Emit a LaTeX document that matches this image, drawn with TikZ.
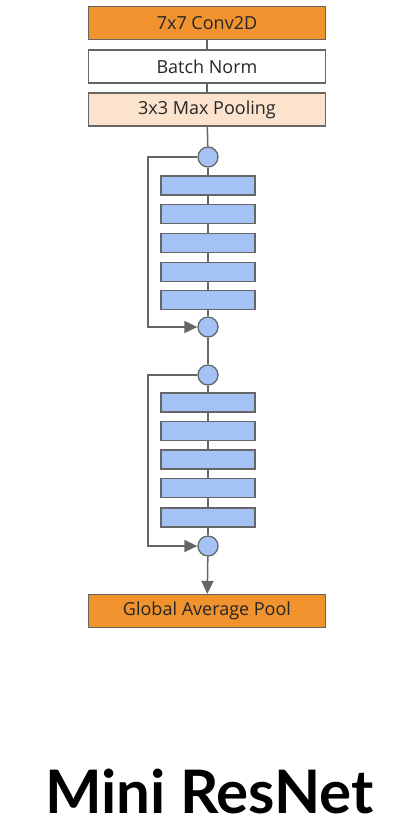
\documentclass[tikz,border=0pt]{standalone}
\usepackage{fontspec}
\setmainfont{Open Sans}
\newfontfamily\titlefont{Lato}
\usetikzlibrary{arrows.meta}
\definecolor{orng}{HTML}{F0922E}
\definecolor{peach}{HTML}{FCE3CD}
\definecolor{blu}{HTML}{A4C2F4}
\definecolor{edge}{HTML}{666666}
\begin{document}
\begin{tikzpicture}[x=1pt,y=-1pt,
  layerbox/.style={draw=edge,line width=1.3pt,minimum width=237pt,minimum height=33pt,inner sep=0pt,font=\fontsize{18}{20}\selectfont,text=black!85},
  blk/.style={draw=edge,line width=1.3pt,fill=blu,minimum width=94pt,minimum height=19pt,inner sep=0pt},
  junc/.style={circle,draw=edge,line width=1.3pt,fill=blu,minimum size=20pt,inner sep=0pt},
  conn/.style={draw=edge,line width=1.5pt},
  arr/.style={conn,-{Triangle[length=13pt,width=12pt]}}]
\useasboundingbox (0,0) rectangle (419,825);
\node[layerbox,fill=orng] (conv) at (207,23) {7x7 Conv2D};
\node[layerbox,fill=white] (bn) at (207,66.5) {Batch Norm};
\node[layerbox,fill=peach] (pool) at (207,109.5) {3x3 Max Pooling};
\node[junc] (a1) at (208,157) {};
\node[blk] (b1) at (208,185.5) {};
\node[blk] (b2) at (208,214) {};
\node[blk] (b3) at (208,243) {};
\node[blk] (b4) at (208,272) {};
\node[blk] (b5) at (208,300) {};
\node[junc] (a2) at (208,327) {};
\node[junc] (c1) at (208,375) {};
\node[blk] (d1) at (208,402.5) {};
\node[blk] (d2) at (208,431) {};
\node[blk] (d3) at (208,459.5) {};
\node[blk] (d4) at (208,488) {};
\node[blk] (d5) at (208,517.5) {};
\node[junc] (c2) at (208,546) {};
\node[layerbox,fill=orng] (gap) at (207,611) {Global Average Pool};
\coordinate (s1) at (148,157);
\coordinate (s2) at (148,327);
\coordinate (s3) at (148,375);
\coordinate (s4) at (148,546);
\draw[conn] (conv) -- (bn);
\draw[conn] (bn) -- (pool);
\draw[conn] (pool) -- (a1);
\draw[conn] (a1) -- (b1);
\draw[conn] (b1) -- (b2);
\draw[conn] (b2) -- (b3);
\draw[conn] (b3) -- (b4);
\draw[conn] (b4) -- (b5);
\draw[conn] (b5) -- (a2);
\draw[conn] (a2) -- (c1);
\draw[conn] (c1) -- (d1);
\draw[conn] (d1) -- (d2);
\draw[conn] (d2) -- (d3);
\draw[conn] (d3) -- (d4);
\draw[conn] (d4) -- (d5);
\draw[conn] (d5) -- (c2);
\draw[arr] (a1.west) -- (s1) -- (s2) -- (a2.west);
\draw[arr] (c1.west) -- (s3) -- (s4) -- (c2.west);
\draw[arr] (c2) -- (gap);
\node[font=\titlefont\bfseries\fontsize{60}{62}\selectfont,inner sep=0pt] (title) at (209.5,791) {Mini ResNet};
\end{tikzpicture}
\end{document}
